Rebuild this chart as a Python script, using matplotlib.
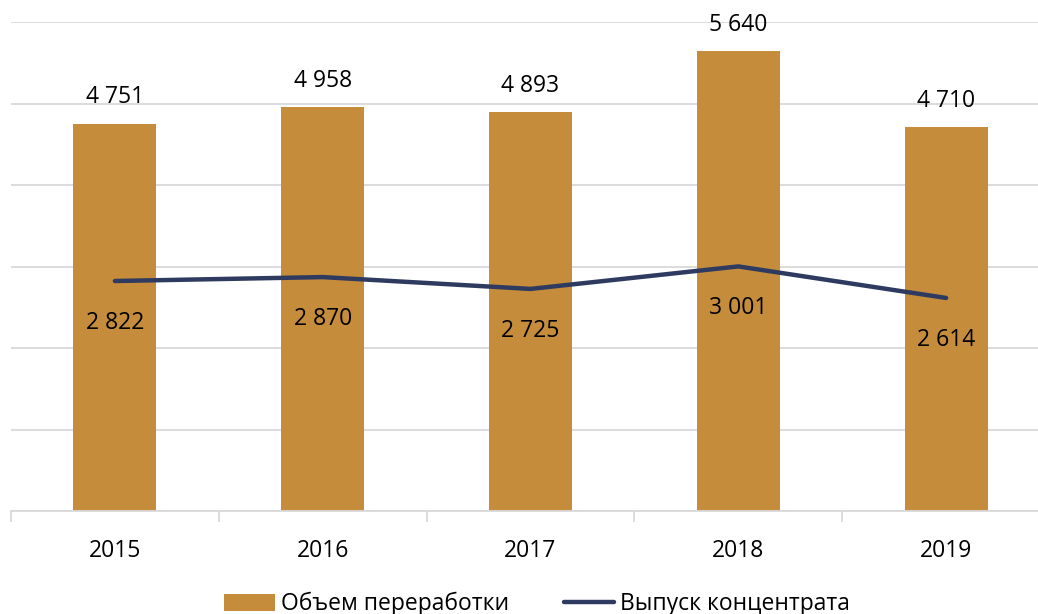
import matplotlib.pyplot as plt
import numpy as np

plt.rcParams['font.family'] = ['Open Sans', 'DejaVu Sans']

# Data
years = ['2015', '2016', '2017', '2018', '2019']
processing = [4751, 4958, 4893, 5640, 4710]      # Объем переработки
concentrate = [2822, 2870, 2725, 3001, 2614]     # Выпуск концентрата

bar_color = '#C48C3B'
line_color = '#2E3A60'
grid_color = '#D9D9D9'

W, H = 1038, 614
fig = plt.figure(figsize=(W / 100, H / 100), dpi=100)
ax = fig.add_axes([11 / W, (H - 511) / H, 1039 / W, 489 / H])

x = np.arange(len(years))
bars = ax.bar(x, processing, width=0.40, color=bar_color, label='Объем переработки', zorder=2)
line, = ax.plot(x, concentrate, color=line_color, linewidth=3.2, solid_capstyle='round',
                label='Выпуск концентрата', zorder=3)

for xi, v in zip(x, processing):
    ax.annotate(f'{v:,}'.replace(',', ' '), (xi, v), xytext=(0, 19),
                textcoords='offset points', ha='center', va='center', fontsize=16.5)
for xi, v in zip(x, concentrate):
    ax.annotate(f'{v:,}'.replace(',', ' '), (xi, v), xytext=(0, -30),
                textcoords='offset points', ha='center', va='center', fontsize=16.5)

ax.set_xlim(-0.5, len(years) - 0.5)
ax.set_ylim(0, 6000)
ax.set_yticks(np.arange(0, 6001, 1000))
ax.yaxis.grid(True, color=grid_color, linewidth=1.3, zorder=0)
ax.tick_params(axis='y', left=False, labelleft=False)

ax.set_xticks(x)
ax.set_xticklabels(years, fontsize=16.5)
ax.set_xticks(np.arange(-0.5, len(years)), minor=True)
ax.tick_params(axis='x', which='major', length=0, pad=20)
ax.tick_params(axis='x', which='minor', length=8, width=1.3, color=grid_color)

for s in ['top', 'right', 'left']:
    ax.spines[s].set_visible(False)
ax.spines['bottom'].set_color(grid_color)
ax.spines['bottom'].set_linewidth(1.3)
ax.set_axisbelow(True)

fig.legend([bars, line], ['Объем переработки', 'Выпуск концентрата'],
           loc='center', bbox_to_anchor=(537 / W, 1 - 604 / H), ncol=2, frameon=False,
           fontsize=16.5, handlelength=2.2, handleheight=0.75, handletextpad=0.25,
           columnspacing=2.4)

fig.savefig('out.png', dpi=100)
